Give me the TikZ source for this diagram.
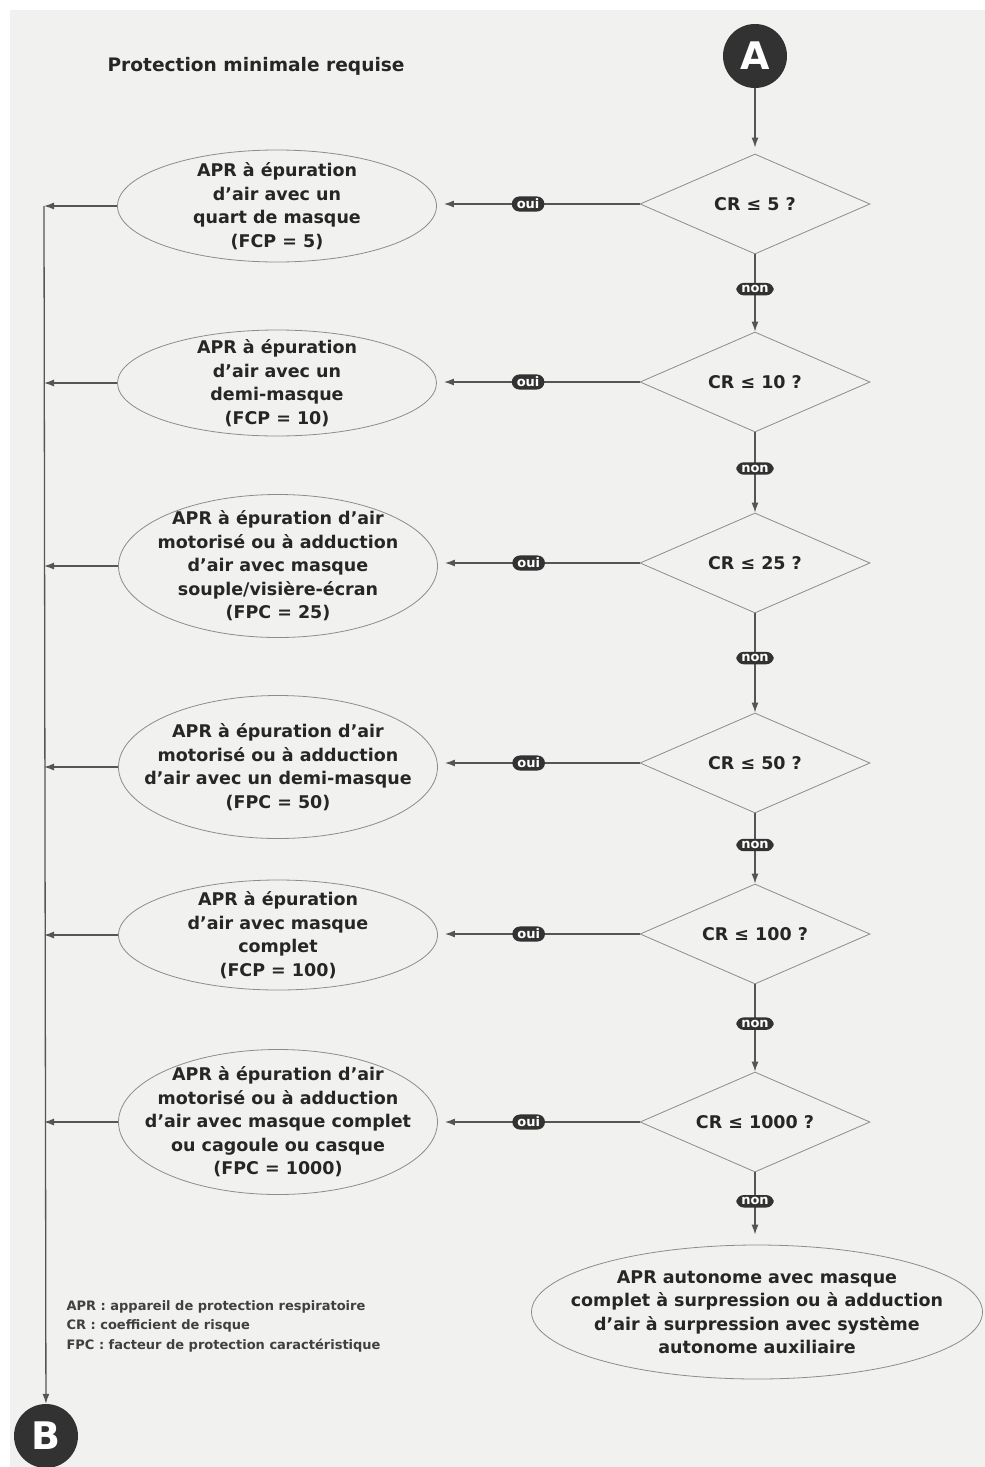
\documentclass[tikz,border=0pt]{standalone}
\usepackage{fontspec}
\setmainfont{DejaVu Sans}
\usetikzlibrary{shapes.geometric,arrows.meta}
\definecolor{papier}{RGB}{241,241,239}
\definecolor{trait}{RGB}{85,85,85}
\definecolor{sombre}{RGB}{50,50,50}
\begin{document}
\begin{tikzpicture}[x=1pt,y=-1pt,
  texte/.style={font=\bfseries\fontsize{17.5}{23.5}\selectfont,align=center,text=black!85},
  question/.style={diamond,aspect=2.3,draw=black!45,line width=0.8pt,texte,minimum width=230pt,minimum height=100pt,inner sep=0pt},
  reponse/.style={ellipse,draw=black!45,line width=0.8pt,minimum width=319pt,inner sep=0pt},
  pastille/.style={fill=sombre,text=white,rounded corners=7.5pt,font=\bfseries\fontsize{13}{13}\selectfont,inner xsep=5pt,inner ysep=2.5pt},
  repere/.style={circle,fill=sombre,text=white,font=\bfseries\fontsize{38}{38}\selectfont,minimum size=64pt,inner sep=0pt},
  fleche/.style={draw=trait,line width=1.3pt,-{Latex[length=10pt,width=7pt]}}]
\useasboundingbox (0,0) rectangle (985,1467);
\fill[papier] (10,10) rectangle (985,1467);

% titre et reperes
\node[anchor=west,font=\bfseries\fontsize{18.6}{20}\selectfont,text=black!85] (titre) at (104,66) {Protection minimale requise};
\node[repere] (A) at (755,56) {A};
\node[repere] (B) at (46,1436) {B};

% questions
\node[question] (q1) at (755,204) {CR ≤ 5 ?};
\node[question] (q2) at (755,382) {CR ≤ 10 ?};
\node[question] (q3) at (755,563) {CR ≤ 25 ?};
\node[question] (q4) at (755,763) {CR ≤ 50 ?};
\node[question] (q5) at (755,934) {CR ≤ 100 ?};
\node[question] (q6) at (755,1122) {CR ≤ 1000 ?};

% reponses
\node[reponse,minimum height=112pt] (r1) at (277,206) {};
\node[texte] (t1) at (r1) {APR à épuration\\d'air avec un\\quart de masque\\(FCP = 5)};
\node[reponse,minimum height=106pt] (r2) at (277,383) {};
\node[texte] (t2) at (r2) {APR à épuration\\d'air avec un\\demi-masque\\(FCP = 10)};
\node[reponse,minimum height=143pt] (r3) at (278,566) {};
\node[texte] (t3) at (r3) {APR à épuration d'air\\motorisé ou à adduction\\d'air avec masque\\souple/visière-écran\\(FPC = 25)};
\node[reponse,minimum height=143pt] (r4) at (278,767) {};
\node[texte] (t4) at (r4) {APR à épuration d'air\\motorisé ou à adduction\\d'air avec un demi-masque\\(FPC = 50)};
\node[reponse,minimum height=110pt] (r5) at (278,935) {};
\node[texte] (t5) at (r5) {APR à épuration\\d'air avec masque\\complet\\(FCP = 100)};
\node[reponse,minimum height=145pt] (r6) at (278,1122) {};
\node[texte] (t6) at (r6) {APR à épuration d'air\\motorisé ou à adduction\\d'air avec masque complet\\ou cagoule ou casque\\(FPC = 1000)};
\node[reponse,minimum width=451pt,minimum height=134pt] (r7) at (757,1312) {};
\node[texte] (t7) at (r7) {APR autonome avec masque\\complet à surpression ou à adduction\\d'air à surpression avec système\\autonome auxiliaire};

% legende
\node[anchor=north west,align=left,font=\bfseries\fontsize{13}{19.5}\selectfont,text=black!75] (legende) at (63,1297)
  {APR : appareil de protection respiratoire\\CR : coefficient de risque\\FPC : facteur de protection caractéristique};

% colonne de gauche
\coordinate (g1) at (44,206);
\coordinate (g2) at (44,383);
\coordinate (g3) at (44,566);
\coordinate (g4) at (44,767);
\coordinate (g5) at (44,935);
\coordinate (g6) at (44,1122);

% liaisons
\draw[fleche,shorten >=6pt] (A) -- (q1);
\draw[fleche] (q1) -- node[pastille,pos=0.45] {non} (q2);
\draw[fleche] (q2) -- node[pastille,pos=0.45] {non} (q3);
\draw[fleche] (q3) -- node[pastille,pos=0.45] {non} (q4);
\draw[fleche] (q4) -- node[pastille,pos=0.45] {non} (q5);
\draw[fleche] (q5) -- node[pastille,pos=0.45] {non} (q6);
\draw[fleche,shorten >=10pt] (q6.south) -- node[pastille,pos=0.4] {non} (q6.south |- r7.north);
\draw[fleche,shorten >=7pt] (q1.west) -- node[pastille,pos=0.55] {oui} (r1.east |- q1.west);
\draw[fleche,shorten >=7pt] (q2.west) -- node[pastille,pos=0.55] {oui} (r2.east |- q2.west);
\draw[fleche,shorten >=7pt] (q3.west) -- node[pastille,pos=0.55] {oui} (r3.east |- q3.west);
\draw[fleche,shorten >=7pt] (q4.west) -- node[pastille,pos=0.55] {oui} (r4.east |- q4.west);
\draw[fleche,shorten >=7pt] (q5.west) -- node[pastille,pos=0.55] {oui} (r5.east |- q5.west);
\draw[fleche,shorten >=7pt] (q6.west) -- node[pastille,pos=0.55] {oui} (r6.east |- q6.west);
\draw[fleche] (r1) -- (g1);
\draw[fleche] (r2) -- (g2);
\draw[fleche] (r3) -- (g3);
\draw[fleche] (r4) -- (g4);
\draw[fleche] (r5) -- (g5);
\draw[fleche] (r6) -- (g6);
\draw[fleche] (g1) -- (B);
\end{tikzpicture}
\end{document}
